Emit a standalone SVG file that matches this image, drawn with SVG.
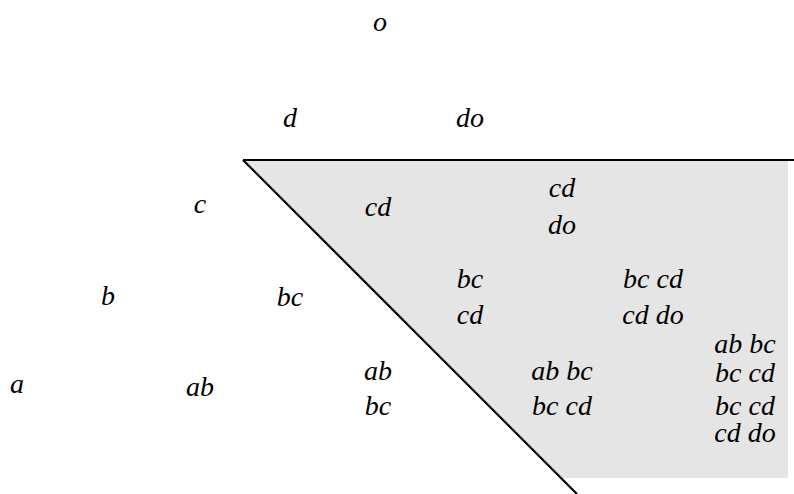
<svg xmlns="http://www.w3.org/2000/svg" width="794" height="494" viewBox="0 0 794 494">
<style>
text{font-family:"Liberation Serif","DejaVu Serif",serif;font-style:italic;font-size:28px;fill:#000;text-anchor:middle}
.edge{stroke:#000;stroke-width:2.2;fill:none}
</style>
<rect width="794" height="494" fill="#fff"/>
<polygon points="243,160 788,160 788,478 561,478" fill="#e5e5e5"/>
<g id="connectors">
<line class="edge" x1="243" y1="160" x2="794" y2="160"/>
<line class="edge" x1="243" y1="160" x2="577" y2="494"/>
</g>
<g id="n-o"><text x="380" y="31">o</text></g>
<g id="n-d"><text x="290" y="127">d</text></g>
<g id="n-do"><text x="470" y="127">do</text></g>
<g id="n-c"><text x="200" y="213">c</text></g>
<g id="n-cd"><text x="378" y="216">cd</text></g>
<g id="n-cd-do"><text x="562" y="197">cd</text><text x="562" y="234">do</text></g>
<g id="n-b"><text x="108" y="305">b</text></g>
<g id="n-bc"><text x="290" y="306">bc</text></g>
<g id="n-bc-cd"><text x="470" y="288">bc</text><text x="470" y="324">cd</text></g>
<g id="n-bccd-cddo"><text x="653" y="288">bc cd</text><text x="653" y="324">cd do</text></g>
<g id="n-a"><text x="17" y="393">a</text></g>
<g id="n-ab"><text x="200" y="396">ab</text></g>
<g id="n-ab-bc"><text x="378" y="380">ab</text><text x="378" y="415">bc</text></g>
<g id="n-abbc-bccd"><text x="562" y="380">ab bc</text><text x="562" y="415">bc cd</text></g>
<g id="n-abbc-bccd-2"><text x="745" y="353">ab bc</text><text x="745" y="382">bc cd</text></g>
<g id="n-bccd-cddo-2"><text x="745" y="415">bc cd</text><text x="745" y="442">cd do</text></g>
</svg>
